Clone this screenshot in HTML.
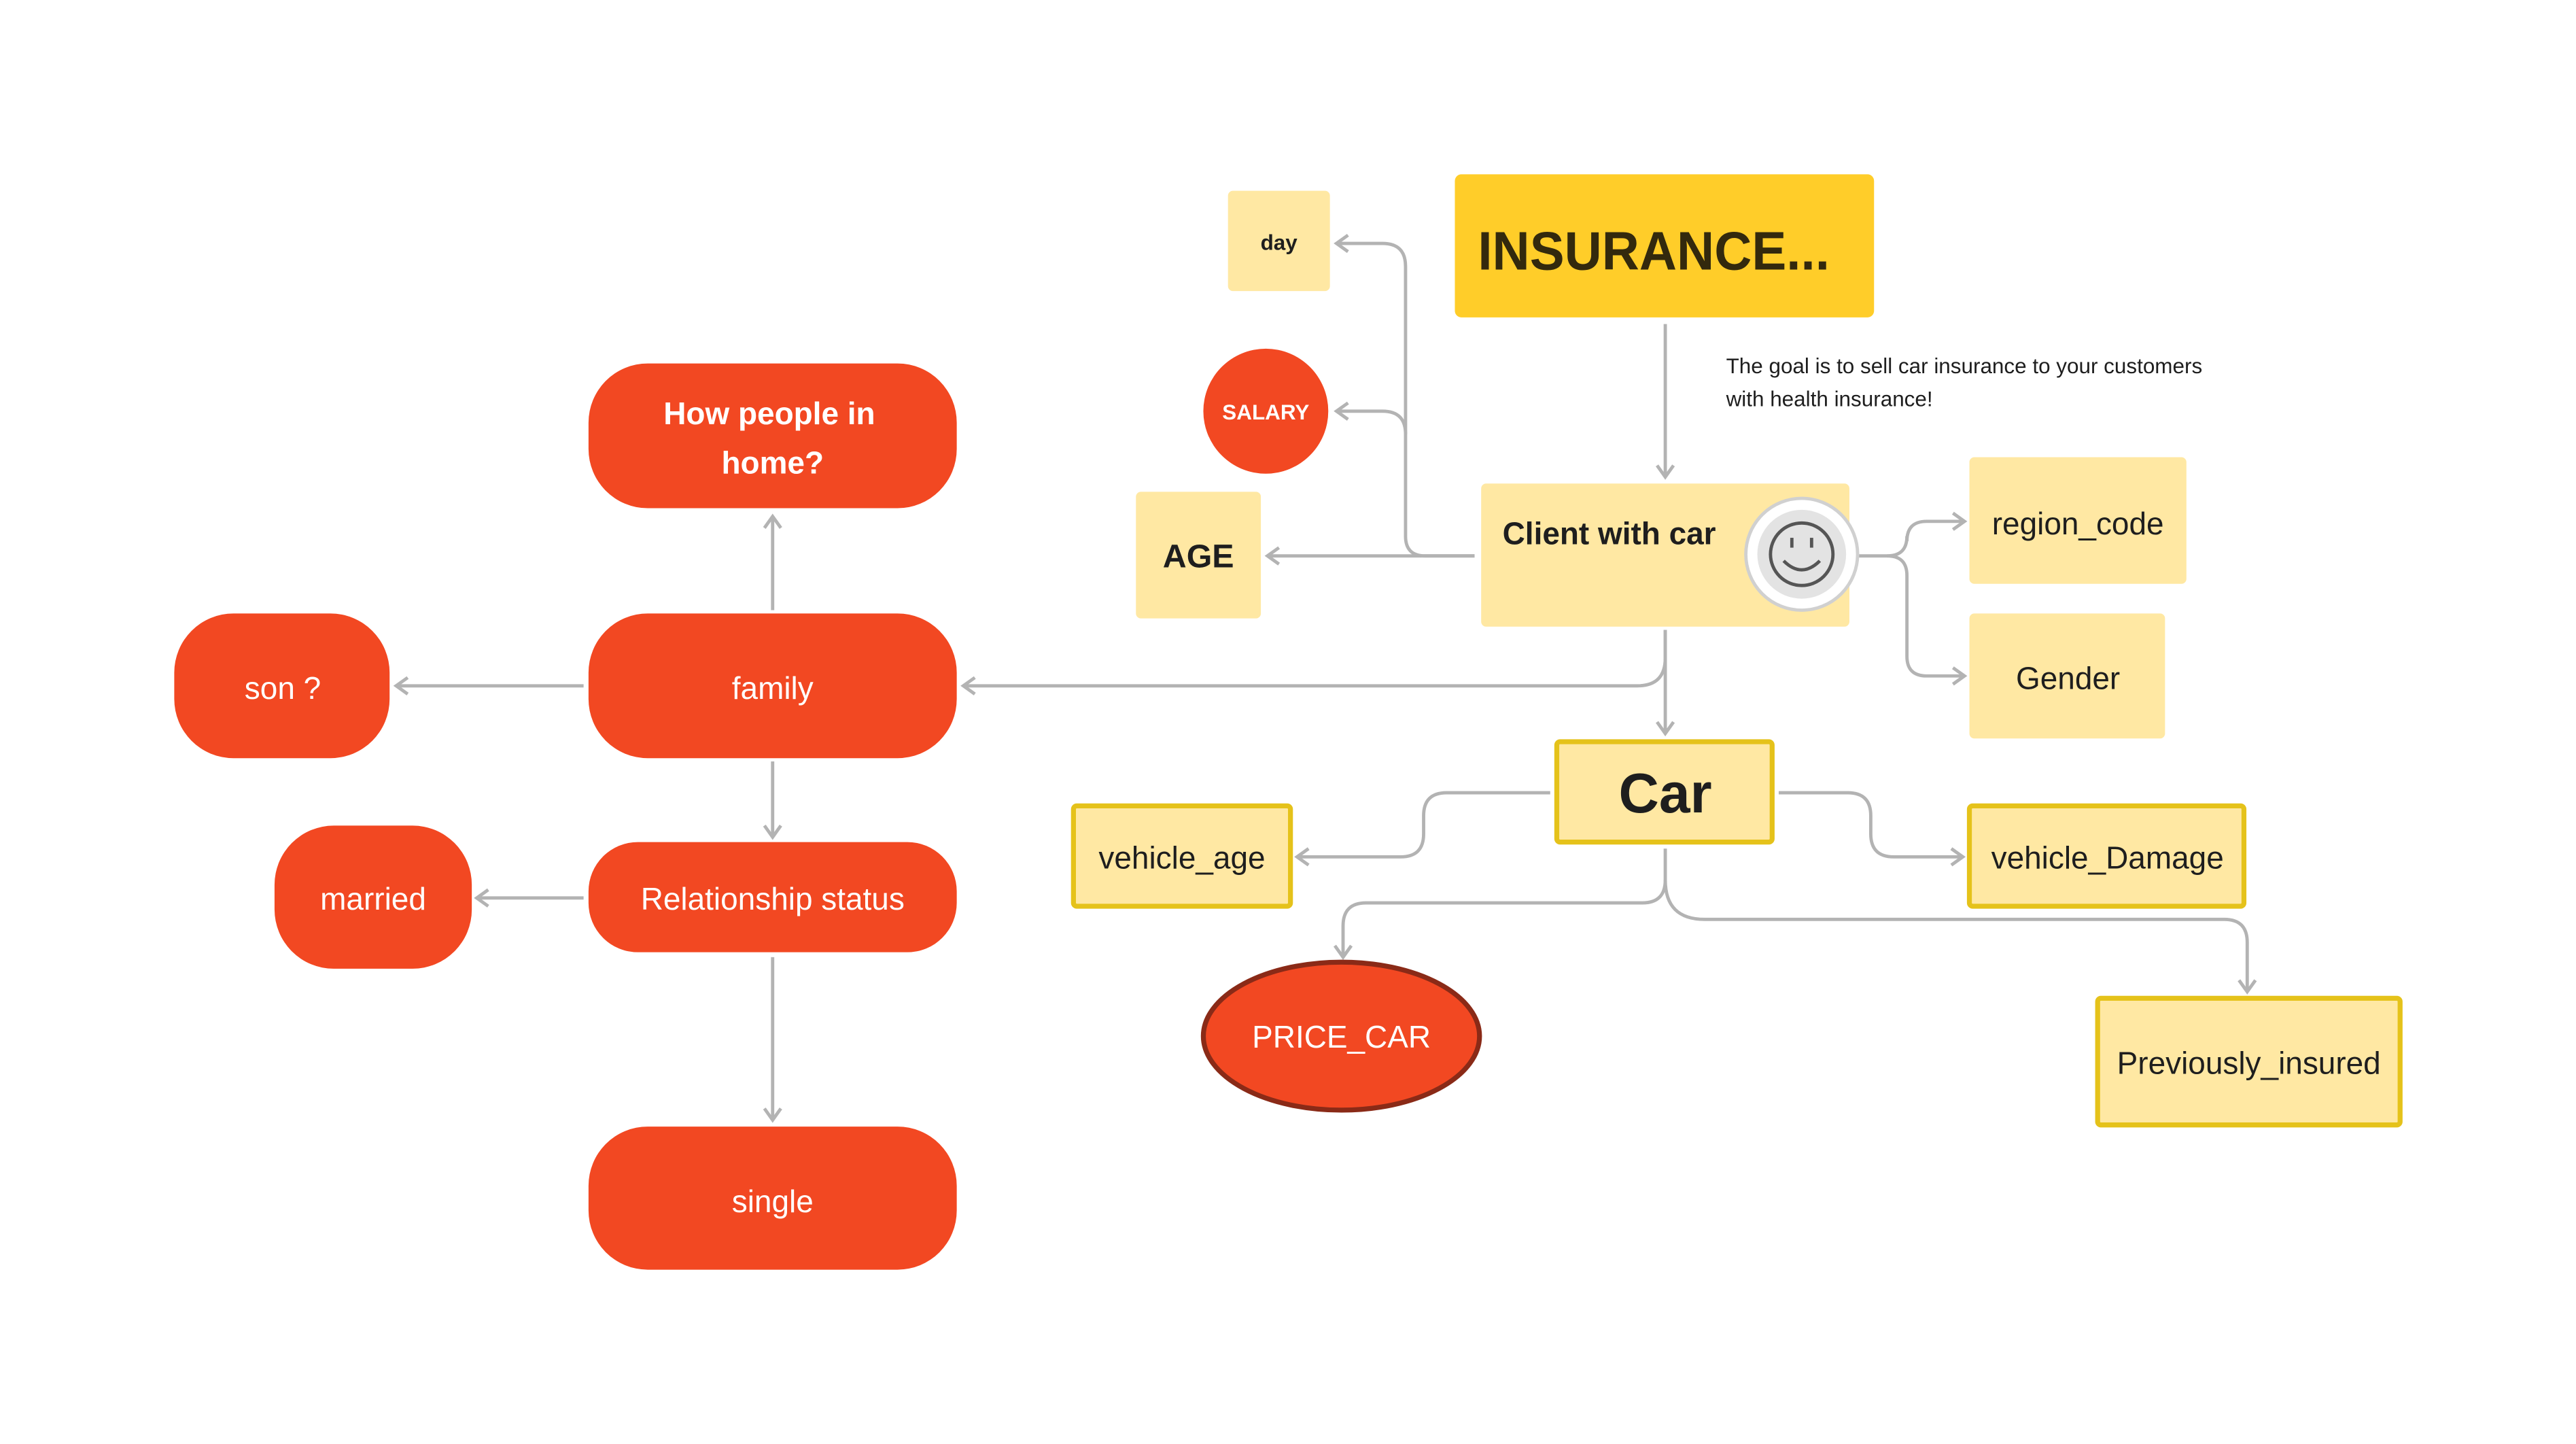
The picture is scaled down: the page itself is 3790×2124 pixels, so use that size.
<!DOCTYPE html>
<html><head><meta charset="utf-8"><style>
html,body{margin:0;padding:0;background:#fff;}
svg{display:block;}
text{font-family:"Liberation Sans",sans-serif;}
</style></head><body>
<svg width="3790" height="2124" viewBox="0 0 1567 878" preserveAspectRatio="none" xmlns="http://www.w3.org/2000/svg">
<defs>
<marker id="a" viewBox="0 0 12 12" refX="10" refY="6" markerWidth="12" markerHeight="12" markerUnits="userSpaceOnUse" orient="auto">
<polyline points="3,1 10,6 3,11" fill="none" stroke="#b3b3b3" stroke-width="2"/>
</marker>
</defs>
<rect width="1567" height="878" fill="#fff"/>
<g fill="none" stroke="#b3b3b3" stroke-width="2">
<path d="M1013 197 V290" marker-end="url(#a)"/>
<path d="M897 338 H771" marker-end="url(#a)"/>
<path d="M897 338 H867 Q855 338 855 326 V162 Q855 148 841 148 H813" marker-end="url(#a)"/>
<path d="M855 264 Q855 250 841 250 H813" marker-end="url(#a)"/>
<path d="M1013 383 V446" marker-end="url(#a)"/>
<path d="M1013 383 V400 Q1013 417 996 417 H586" marker-end="url(#a)"/>
<path d="M1130 338 H1148 Q1160 338 1160 326 V329 Q1160 317 1172 317 H1195" marker-end="url(#a)"/>
<path d="M1148 338 Q1160 338 1160 350 V399 Q1160 411 1172 411 H1195" marker-end="url(#a)"/>
<path d="M943 482 H880 Q866 482 866 496 V507 Q866 521 852 521 H789" marker-end="url(#a)"/>
<path d="M1082 482 H1124 Q1138 482 1138 496 V507 Q1138 521 1152 521 H1194" marker-end="url(#a)"/>
<path d="M1013 516 V535 Q1013 549 999 549 H831 Q817 549 817 563 V582" marker-end="url(#a)"/>
<path d="M1013 535 Q1013 559 1037 559 H1353 Q1367 559 1367 573 V603" marker-end="url(#a)"/>
<path d="M470 371 V314" marker-end="url(#a)"/>
<path d="M355 417 H241" marker-end="url(#a)"/>
<path d="M470 463 V509" marker-end="url(#a)"/>
<path d="M355 546 H290" marker-end="url(#a)"/>
<path d="M470 582 V681" marker-end="url(#a)"/>
</g>
<rect x="885" y="106" width="255" height="87" rx="4" fill="#ffcd29"/>
<text x="899" y="164" font-size="33" font-weight="bold" fill="#33290d" textLength="214" lengthAdjust="spacingAndGlyphs">INSURANCE...</text>
<text x="1050" y="227" font-size="13" fill="#1e1e1e">The goal is to sell car insurance to your customers</text>
<text x="1050" y="247" font-size="13" fill="#1e1e1e">with health insurance!</text>
<rect x="747" y="116" width="62" height="61" rx="3" fill="#ffe8a3"/>
<text x="778" y="152" font-size="13" font-weight="bold" text-anchor="middle" fill="#1e1e1e">day</text>
<circle cx="770" cy="250" r="38" fill="#f24822"/>
<text x="770" y="255" font-size="13" font-weight="bold" text-anchor="middle" fill="#fff">SALARY</text>
<rect x="691" y="299" width="76" height="77" rx="3" fill="#ffe8a3"/>
<text x="729" y="345" font-size="20" font-weight="bold" text-anchor="middle" fill="#1e1e1e">AGE</text>
<rect x="901" y="294" width="224" height="87" rx="3" fill="#ffe8a3"/>
<text x="914" y="331" font-size="19" font-weight="bold" fill="#1e1e1e">Client  with car</text>
<circle cx="1096" cy="337" r="34" fill="#fff" stroke="#d0d0d0" stroke-width="2"/>
<circle cx="1096" cy="337" r="27" fill="#e3e3e3"/>
<circle cx="1096" cy="337" r="19" fill="none" stroke="#555" stroke-width="2"/>
<line x1="1090" y1="327" x2="1090" y2="333" stroke="#555" stroke-width="2"/>
<line x1="1102" y1="327" x2="1102" y2="333" stroke="#555" stroke-width="2"/>
<path d="M1085 341 Q1096 352 1107 341" fill="none" stroke="#555" stroke-width="2"/>
<rect x="1198" y="278" width="132" height="77" rx="3" fill="#ffe8a3"/>
<text x="1264" y="325" font-size="19" text-anchor="middle" fill="#1e1e1e">region_code</text>
<rect x="1198" y="373" width="119" height="76" rx="3" fill="#ffe8a3"/>
<text x="1258" y="419" font-size="19" text-anchor="middle" fill="#1e1e1e">Gender</text>
<rect x="947" y="451" width="131" height="61" rx="2" fill="#ffe8a3" stroke="#e5c21a" stroke-width="3"/>
<text x="1013" y="494" font-size="34" font-weight="bold" text-anchor="middle" fill="#1e1e1e">Car</text>
<rect x="653" y="490" width="132" height="61" rx="2" fill="#ffe8a3" stroke="#e5c21a" stroke-width="3"/>
<text x="719" y="528" font-size="19" text-anchor="middle" fill="#1e1e1e">vehicle_age</text>
<rect x="1198" y="490" width="167" height="61" rx="2" fill="#ffe8a3" stroke="#e5c21a" stroke-width="3"/>
<text x="1282" y="528" font-size="19" text-anchor="middle" fill="#1e1e1e">vehicle_Damage</text>
<rect x="1276" y="607" width="184" height="77" rx="2" fill="#ffe8a3" stroke="#e5c21a" stroke-width="3"/>
<text x="1368" y="653" font-size="19" text-anchor="middle" fill="#1e1e1e">Previously_insured</text>
<ellipse cx="816" cy="630" rx="84" ry="45" fill="#f24822" stroke="#8a2a17" stroke-width="3"/>
<text x="816" y="637" font-size="19" text-anchor="middle" fill="#fff">PRICE_CAR</text>
<g fill="#f24822">
<rect x="358" y="221" width="224" height="88" rx="36"/>
<rect x="358" y="373" width="224" height="88" rx="36"/>
<rect x="106" y="373" width="131" height="88" rx="36"/>
<rect x="358" y="512" width="224" height="67" rx="30"/>
<rect x="167" y="502" width="120" height="87" rx="36"/>
<rect x="358" y="685" width="224" height="87" rx="36"/>
</g>
<g fill="#fff" font-size="19" text-anchor="middle">
<text x="468" y="258" font-weight="bold">How people in</text>
<text x="470" y="288" font-weight="bold">home?</text>
<text x="470" y="425">family</text>
<text x="172" y="425">son ?</text>
<text x="470" y="553">Relationship status</text>
<text x="227" y="553">married</text>
<text x="470" y="737">single</text>
</g>
</svg>
</body></html>
